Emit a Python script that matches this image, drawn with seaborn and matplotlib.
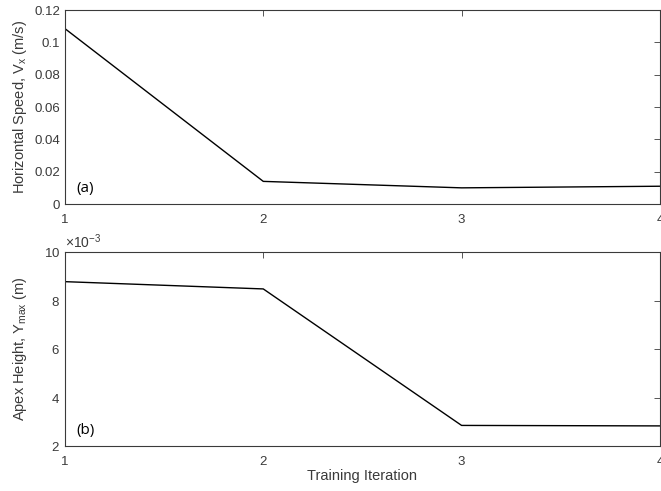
import numpy as np
import pandas as pd
import matplotlib
matplotlib.use('Agg')
import matplotlib.pyplot as plt
import matplotlib.ticker as mticker
import seaborn as sns

iterations = [1, 2, 3, 4]
speed_vx = [0.1085, 0.0140, 0.0100, 0.0110]
apex_ymax = [8.78e-3, 8.48e-3, 2.85e-3, 2.83e-3]

sns.set_style('white')
plt.rcParams['font.family'] = ['Liberation Sans', 'DejaVu Sans']
plt.rcParams['mathtext.fontset'] = 'custom'
plt.rcParams['mathtext.rm'] = 'Liberation Sans'
plt.rcParams['mathtext.it'] = 'Liberation Sans'

grey = '#3a3a3a'
fig = plt.figure(figsize=(6.61, 4.91), dpi=100)
ax1 = fig.add_axes([0.0983, 0.5845, 0.9, 0.395])
ax2 = fig.add_axes([0.0983, 0.0916, 0.9, 0.395])

df = pd.DataFrame({'iter': iterations, 'vx': speed_vx, 'ymax': apex_ymax})
sns.lineplot(data=df, x='iter', y='vx', ax=ax1, color='black', linewidth=1)
sns.lineplot(data=df, x='iter', y='ymax', ax=ax2, color='black', linewidth=1)

ax1.set_ylim(0, 0.12)
ax1.set_yticks([0, 0.02, 0.04, 0.06, 0.08, 0.1, 0.12])
ax1.set_yticklabels(['0', '0.02', '0.04', '0.06', '0.08', '0.1', '0.12'])
ax1.set_ylabel('Horizontal Speed, V$_{\\mathregular{x}}$ (m/s)', fontsize=10.5, color=grey)
ax1.set_xlabel('')

ax2.set_ylim(2e-3, 10e-3)
ax2.set_yticks([2e-3, 4e-3, 6e-3, 8e-3, 10e-3])
fmt = mticker.ScalarFormatter(useMathText=True)
fmt.set_powerlimits((-3, -3))
ax2.yaxis.set_major_formatter(fmt)
ax2.yaxis.get_offset_text().set_fontsize(10)
ax2.yaxis.get_offset_text().set_color(grey)
ax2.set_ylabel('Apex Height, Y$_{\\mathregular{max}}$ (m)', fontsize=10.5, color=grey)
ax2.set_xlabel('Training Iteration', fontsize=10.5, color=grey, labelpad=1)

for ax in (ax1, ax2):
    ax.set_xlim(1, 4)
    ax.set_xticks(iterations)
    ax.tick_params(direction='in', length=4, width=0.6, colors=grey,
                   labelsize=9.5, top=True, right=True, labelcolor=grey)
    ax.tick_params(axis='x', pad=7)
    ax.yaxis.set_label_coords(-0.061, 0.5)
    for s in ax.spines.values():
        s.set_color(grey)
        s.set_linewidth(0.8)

ax1.text(0.02, 0.06, '(a)', transform=ax1.transAxes, fontsize=11, family='Open Sans', color='black')
ax2.text(0.02, 0.06, '(b)', transform=ax2.transAxes, fontsize=11, family='Open Sans', color='black')

fig.savefig('out.png', dpi=100)
